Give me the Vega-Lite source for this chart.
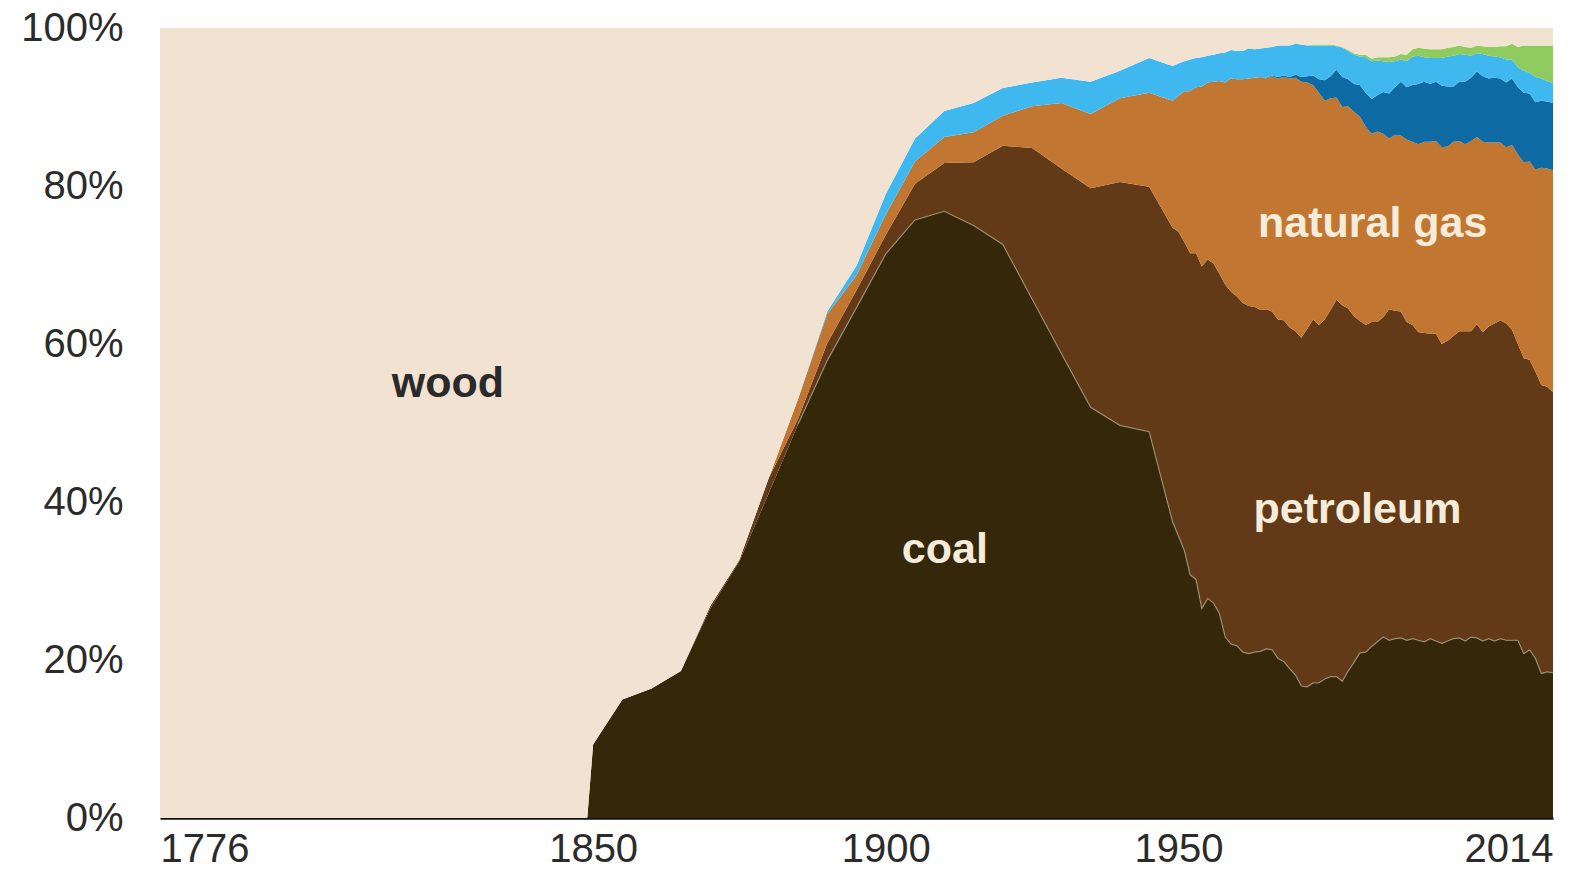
{
  "$schema": "https://vega.github.io/schema/vega-lite/v6.json",
  "width": 1393,
  "height": 790,
  "autosize": {"type": "none"},
  "padding": {"left": 160, "top": 28, "right": 19, "bottom": 59},
  "background": "white",
  "config": {"view": {"stroke": null}, "font": "Liberation Sans"},
  "datasets": {
    "energy": [
      {"year":1776,"coal":0,"petroleum":0,"gas":0,"nuclear":0,"hydro":0,"other":0,"wood":100},
      {"year":1849,"coal":0,"petroleum":0,"gas":0,"nuclear":0,"hydro":0,"other":0,"wood":100},
      {"year":1850,"coal":9.3,"petroleum":0,"gas":0,"nuclear":0,"hydro":0,"other":0,"wood":90.7},
      {"year":1855,"coal":15.0,"petroleum":0,"gas":0,"nuclear":0,"hydro":0,"other":0,"wood":85.0},
      {"year":1860,"coal":16.4,"petroleum":0,"gas":0,"nuclear":0,"hydro":0,"other":0,"wood":83.6},
      {"year":1865,"coal":18.6,"petroleum":0,"gas":0,"nuclear":0,"hydro":0,"other":0,"wood":81.4},
      {"year":1870,"coal":26.5,"petroleum":0.3,"gas":0,"nuclear":0,"hydro":0,"other":0,"wood":73.2},
      {"year":1875,"coal":32.5,"petroleum":0.2,"gas":0,"nuclear":0,"hydro":0,"other":0,"wood":67.3},
      {"year":1880,"coal":41.1,"petroleum":1.9,"gas":0,"nuclear":0,"hydro":0,"other":0,"wood":57.0},
      {"year":1885,"coal":49.8,"petroleum":0.7,"gas":2.5,"nuclear":0,"hydro":0,"other":0,"wood":47.0},
      {"year":1890,"coal":57.9,"petroleum":2.2,"gas":3.7,"nuclear":0,"hydro":0.3,"other":0,"wood":35.9},
      {"year":1895,"coal":64.6,"petroleum":2.2,"gas":1.9,"nuclear":0,"hydro":1.2,"other":0,"wood":30.1},
      {"year":1900,"coal":71.4,"petroleum":2.4,"gas":2.6,"nuclear":0,"hydro":2.6,"other":0,"wood":21.0},
      {"year":1905,"coal":75.7,"petroleum":4.6,"gas":2.8,"nuclear":0,"hydro":2.9,"other":0,"wood":14.0},
      {"year":1910,"coal":76.8,"petroleum":6.1,"gas":3.3,"nuclear":0,"hydro":3.3,"other":0,"wood":10.5},
      {"year":1915,"coal":75.0,"petroleum":8.0,"gas":3.8,"nuclear":0,"hydro":3.7,"other":0,"wood":9.5},
      {"year":1920,"coal":72.6,"petroleum":12.5,"gas":3.8,"nuclear":0,"hydro":3.5,"other":0,"wood":7.6},
      {"year":1925,"coal":65.7,"petroleum":19.1,"gas":5.3,"nuclear":0,"hydro":3.0,"other":0,"wood":6.9},
      {"year":1930,"coal":58.8,"petroleum":23.4,"gas":8.3,"nuclear":0,"hydro":3.2,"other":0,"wood":6.3},
      {"year":1935,"coal":52.0,"petroleum":27.7,"gas":9.4,"nuclear":0,"hydro":4.1,"other":0,"wood":6.8},
      {"year":1940,"coal":49.7,"petroleum":30.8,"gas":10.6,"nuclear":0,"hydro":3.5,"other":0,"wood":5.4},
      {"year":1945,"coal":48.9,"petroleum":31.0,"gas":11.9,"nuclear":0,"hydro":4.4,"other":0,"wood":3.8},
      {"year":1949,"coal":37.5,"petroleum":37.2,"gas":16.1,"nuclear":0,"hydro":4.4,"other":0,"wood":4.8},
      {"year":1950,"coal":35.7,"petroleum":38.5,"gas":17.2,"nuclear":0,"hydro":4.1,"other":0,"wood":4.5},
      {"year":1951,"coal":33.9,"petroleum":39.0,"gas":19.1,"nuclear":0,"hydro":3.8,"other":0,"wood":4.2},
      {"year":1952,"coal":30.8,"petroleum":40.7,"gas":20.5,"nuclear":0,"hydro":4.0,"other":0,"wood":4.0},
      {"year":1953,"coal":30.2,"petroleum":41.3,"gas":21.0,"nuclear":0,"hydro":3.7,"other":0,"wood":3.8},
      {"year":1954,"coal":26.5,"petroleum":43.3,"gas":22.8,"nuclear":0,"hydro":3.7,"other":0,"wood":3.7},
      {"year":1955,"coal":27.8,"petroleum":42.9,"gas":22.4,"nuclear":0,"hydro":3.4,"other":0,"wood":3.5},
      {"year":1956,"coal":27.2,"petroleum":43.0,"gas":23.0,"nuclear":0,"hydro":3.4,"other":0,"wood":3.4},
      {"year":1957,"coal":25.9,"petroleum":43.0,"gas":24.4,"nuclear":0,"hydro":3.5,"other":0,"wood":3.2},
      {"year":1958,"coal":22.9,"petroleum":44.6,"gas":25.6,"nuclear":0,"hydro":3.8,"other":0,"wood":3.1},
      {"year":1959,"coal":22.0,"petroleum":44.6,"gas":27.0,"nuclear":0,"hydro":3.6,"other":0,"wood":2.8},
      {"year":1960,"coal":21.8,"petroleum":44.2,"gas":27.5,"nuclear":0,"hydro":3.6,"other":0,"wood":2.9},
      {"year":1961,"coal":21.0,"petroleum":44.2,"gas":28.3,"nuclear":0,"hydro":3.6,"other":0,"wood":2.9},
      {"year":1962,"coal":20.8,"petroleum":44.0,"gas":28.8,"nuclear":0,"hydro":3.8,"other":0,"wood":2.6},
      {"year":1963,"coal":21.0,"petroleum":43.7,"gas":29.0,"nuclear":0,"hydro":3.6,"other":0,"wood":2.7},
      {"year":1964,"coal":21.1,"petroleum":43.2,"gas":29.5,"nuclear":0,"hydro":3.6,"other":0,"wood":2.6},
      {"year":1965,"coal":21.4,"petroleum":43.0,"gas":29.2,"nuclear":0.1,"hydro":3.8,"other":0,"wood":2.5},
      {"year":1966,"coal":21.3,"petroleum":42.8,"gas":29.8,"nuclear":0.1,"hydro":3.6,"other":0,"wood":2.4},
      {"year":1967,"coal":20.2,"petroleum":42.9,"gas":30.5,"nuclear":0.2,"hydro":4.0,"other":0,"wood":2.2},
      {"year":1968,"coal":19.8,"petroleum":43.2,"gas":30.8,"nuclear":0.2,"hydro":3.8,"other":0,"wood":2.2},
      {"year":1969,"coal":18.9,"petroleum":43.2,"gas":31.5,"nuclear":0.2,"hydro":4.0,"other":0,"wood":2.2},
      {"year":1970,"coal":18.1,"petroleum":43.5,"gas":32.1,"nuclear":0.4,"hydro":3.9,"other":0,"wood":2.0},
      {"year":1971,"coal":16.7,"petroleum":44.1,"gas":32.4,"nuclear":0.6,"hydro":4.1,"other":0,"wood":2.1},
      {"year":1972,"coal":16.6,"petroleum":45.3,"gas":31.2,"nuclear":0.8,"hydro":3.9,"other":0,"wood":2.2},
      {"year":1973,"coal":17.1,"petroleum":46.0,"gas":29.7,"nuclear":1.2,"hydro":3.8,"other":0.1,"wood":2.1},
      {"year":1974,"coal":17.1,"petroleum":45.3,"gas":29.4,"nuclear":1.7,"hydro":4.3,"other":0.1,"wood":2.1},
      {"year":1975,"coal":17.6,"petroleum":45.5,"gas":27.7,"nuclear":2.6,"hydro":4.4,"other":0.1,"wood":2.1},
      {"year":1976,"coal":17.9,"petroleum":46.4,"gas":26.8,"nuclear":2.8,"hydro":3.9,"other":0.1,"wood":2.1},
      {"year":1977,"coal":17.9,"petroleum":47.7,"gas":25.6,"nuclear":3.5,"hydro":3.0,"other":0.1,"wood":2.2},
      {"year":1978,"coal":17.3,"petroleum":47.6,"gas":25.1,"nuclear":3.8,"hydro":3.7,"other":0.1,"wood":2.4},
      {"year":1979,"coal":18.6,"petroleum":45.9,"gas":25.6,"nuclear":3.4,"hydro":3.6,"other":0.1,"wood":2.8},
      {"year":1980,"coal":19.7,"petroleum":43.8,"gas":25.9,"nuclear":3.5,"hydro":3.7,"other":0.2,"wood":3.2},
      {"year":1981,"coal":20.9,"petroleum":42.0,"gas":25.9,"nuclear":4.0,"hydro":3.6,"other":0.2,"wood":3.4},
      {"year":1982,"coal":21.0,"petroleum":41.4,"gas":25.1,"nuclear":4.3,"hydro":4.5,"other":0.3,"wood":3.4},
      {"year":1983,"coal":21.7,"petroleum":41.1,"gas":23.8,"nuclear":4.4,"hydro":4.8,"other":0.3,"wood":3.9},
      {"year":1984,"coal":22.3,"petroleum":40.5,"gas":24.1,"nuclear":4.6,"hydro":4.4,"other":0.4,"wood":3.7},
      {"year":1985,"coal":22.9,"petroleum":40.5,"gas":23.2,"nuclear":5.3,"hydro":3.9,"other":0.5,"wood":3.7},
      {"year":1986,"coal":22.5,"petroleum":41.9,"gas":21.6,"nuclear":5.7,"hydro":4.0,"other":0.6,"wood":3.7},
      {"year":1987,"coal":22.7,"petroleum":41.5,"gas":22.3,"nuclear":6.0,"hydro":3.3,"other":0.6,"wood":3.6},
      {"year":1988,"coal":22.8,"petroleum":41.3,"gas":22.3,"nuclear":6.8,"hydro":2.8,"other":0.7,"wood":3.3},
      {"year":1989,"coal":22.5,"petroleum":40.3,"gas":23.1,"nuclear":6.6,"hydro":3.3,"other":0.8,"wood":3.4},
      {"year":1990,"coal":22.7,"petroleum":39.7,"gas":23.2,"nuclear":7.2,"hydro":3.6,"other":0.9,"wood":2.7},
      {"year":1991,"coal":22.5,"petroleum":39.0,"gas":23.8,"nuclear":7.6,"hydro":3.6,"other":1.0,"wood":2.5},
      {"year":1992,"coal":22.3,"petroleum":39.1,"gas":24.2,"nuclear":7.6,"hydro":3.1,"other":1.1,"wood":2.6},
      {"year":1993,"coal":22.7,"petroleum":38.6,"gas":24.3,"nuclear":7.3,"hydro":3.3,"other":1.1,"wood":2.7},
      {"year":1994,"coal":22.4,"petroleum":38.9,"gas":24.4,"nuclear":7.5,"hydro":3.0,"other":1.1,"wood":2.7},
      {"year":1995,"coal":22.1,"petroleum":37.9,"gas":24.9,"nuclear":7.8,"hydro":3.5,"other":1.1,"wood":2.7},
      {"year":1996,"coal":22.4,"petroleum":38.0,"gas":24.6,"nuclear":7.6,"hydro":3.8,"other":1.1,"wood":2.5},
      {"year":1997,"coal":22.7,"petroleum":38.3,"gas":24.6,"nuclear":7.0,"hydro":3.9,"other":1.1,"wood":2.4},
      {"year":1998,"coal":22.8,"petroleum":38.8,"gas":24.1,"nuclear":7.5,"hydro":3.5,"other":1.1,"wood":2.2},
      {"year":1999,"coal":22.4,"petroleum":39.2,"gas":23.7,"nuclear":7.9,"hydro":3.4,"other":1.0,"wood":2.4},
      {"year":2000,"coal":22.9,"petroleum":38.7,"gas":24.1,"nuclear":8.0,"hydro":2.8,"other":1.0,"wood":2.5},
      {"year":2001,"coal":22.8,"petroleum":39.7,"gas":23.7,"nuclear":8.3,"hydro":2.3,"other":1.0,"wood":2.2},
      {"year":2002,"coal":22.4,"petroleum":39.1,"gas":24.1,"nuclear":8.3,"hydro":2.8,"other":1.0,"wood":2.3},
      {"year":2003,"coal":22.7,"petroleum":39.5,"gas":23.3,"nuclear":8.1,"hydro":2.9,"other":1.1,"wood":2.4},
      {"year":2004,"coal":22.4,"petroleum":40.2,"gas":22.9,"nuclear":8.2,"hydro":2.7,"other":1.2,"wood":2.4},
      {"year":2005,"coal":22.7,"petroleum":40.3,"gas":22.5,"nuclear":8.1,"hydro":2.7,"other":1.4,"wood":2.3},
      {"year":2006,"coal":22.5,"petroleum":40.1,"gas":22.3,"nuclear":8.2,"hydro":2.9,"other":1.7,"wood":2.3},
      {"year":2007,"coal":22.5,"petroleum":39.3,"gas":23.4,"nuclear":8.4,"hydro":2.4,"other":2.0,"wood":2.0},
      {"year":2008,"coal":22.5,"petroleum":37.5,"gas":24.0,"nuclear":8.5,"hydro":2.5,"other":2.6,"wood":2.4},
      {"year":2009,"coal":20.8,"petroleum":37.4,"gas":24.8,"nuclear":8.8,"hydro":2.8,"other":3.2,"wood":2.2},
      {"year":2010,"coal":21.3,"petroleum":36.7,"gas":25.1,"nuclear":8.6,"hydro":2.6,"other":3.5,"wood":2.2},
      {"year":2011,"coal":20.2,"petroleum":36.3,"gas":25.6,"nuclear":8.5,"hydro":3.2,"other":4.0,"wood":2.2},
      {"year":2012,"coal":18.3,"petroleum":36.5,"gas":27.5,"nuclear":8.5,"hydro":2.8,"other":4.2,"wood":2.2},
      {"year":2013,"coal":18.5,"petroleum":36.1,"gas":27.6,"nuclear":8.5,"hydro":2.6,"other":4.5,"wood":2.2},
      {"year":2014,"coal":18.4,"petroleum":35.5,"gas":28.1,"nuclear":8.5,"hydro":2.5,"other":4.8,"wood":2.2}
    ],
    "labels": [
      {"year":1825.2,"share":53.3,"label":"wood"},
      {"year":1910.1,"share":32.3,"label":"coal"},
      {"year":1980.6,"share":37.3,"label":"petroleum"},
      {"year":1983.2,"share":73.5,"label":"natural gas"}
    ]
  },
  "layer": [
    {
      "data": {"name": "energy"},
      "transform": [
        {"fold": ["coal","petroleum","gas","nuclear","hydro","other","wood"], "as": ["source","value"]},
        {"calculate": "indexof(['coal','petroleum','gas','nuclear','hydro','other','wood'], datum.source)", "as": "layer_rank"}
      ],
      "mark": {"type": "area", "interpolate": "linear"},
      "encoding": {
        "x": {
          "field": "year", "type": "quantitative",
          "scale": {"domain": [1776, 2014], "nice": false, "zero": false},
          "axis": {
            "values": [1776, 1850, 1900, 1950, 2014],
            "format": "d", "title": null, "grid": false, "ticks": false, "tickSize": 0,
            "labelFlush": true, "labelPadding": 11, "labelFontSize": 40,
            "labelFont": "Liberation Sans", "labelColor": "#2b2b2b",
            "domainColor": "#111111", "domainWidth": 2.5
          }
        },
        "y": {
          "field": "value", "type": "quantitative", "stack": "zero",
          "scale": {"domain": [0, 100], "nice": false},
          "axis": {
            "values": [0, 20, 40, 60, 80, 100],
            "labelExpr": "datum.value + '%'",
            "title": null, "grid": false, "ticks": false, "tickSize": 0, "domain": false,
            "labelPadding": 37, "labelFontSize": 40, "labelFont": "Liberation Sans",
            "labelColor": "#2b2b2b"
          }
        },
        "color": {
          "field": "source", "type": "nominal",
          "scale": {
            "domain": ["coal","petroleum","gas","nuclear","hydro","other","wood"],
            "range": ["#34270a","#623a17","#c17731","#0d6aa2","#3fb8f0","#8fcb5f","#f2e2d2"]
          },
          "legend": null
        },
        "order": {"field": "layer_rank", "type": "quantitative", "sort": "ascending"}
      }
    },
    {
      "data": {"name": "energy"},
      "transform": [{"filter": "datum.year >= 1885"}],
      "mark": {"type": "line", "stroke": "#a8987a", "strokeWidth": 1.2, "opacity": 0.8},
      "encoding": {
        "x": {"field": "year", "type": "quantitative"},
        "y": {"field": "coal", "type": "quantitative"}
      }
    },
    {
      "data": {"name": "labels"},
      "transform": [{"filter": "datum.label === 'wood'"}],
      "mark": {"type": "text", "align": "center", "baseline": "alphabetic", "font": "Liberation Sans", "fontWeight": "bold", "fontSize": 43, "color": "#2a2a2a"},
      "encoding": {
        "x": {"field": "year", "type": "quantitative"},
        "y": {"field": "share", "type": "quantitative"},
        "text": {"field": "label"}
      }
    },
    {
      "data": {"name": "labels"},
      "transform": [{"filter": "datum.label !== 'wood'"}],
      "mark": {"type": "text", "align": "center", "baseline": "alphabetic", "font": "Liberation Sans", "fontWeight": "bold", "fontSize": 43, "color": "#f6ecdc"},
      "encoding": {
        "x": {"field": "year", "type": "quantitative"},
        "y": {"field": "share", "type": "quantitative"},
        "text": {"field": "label"}
      }
    }
  ]
}
